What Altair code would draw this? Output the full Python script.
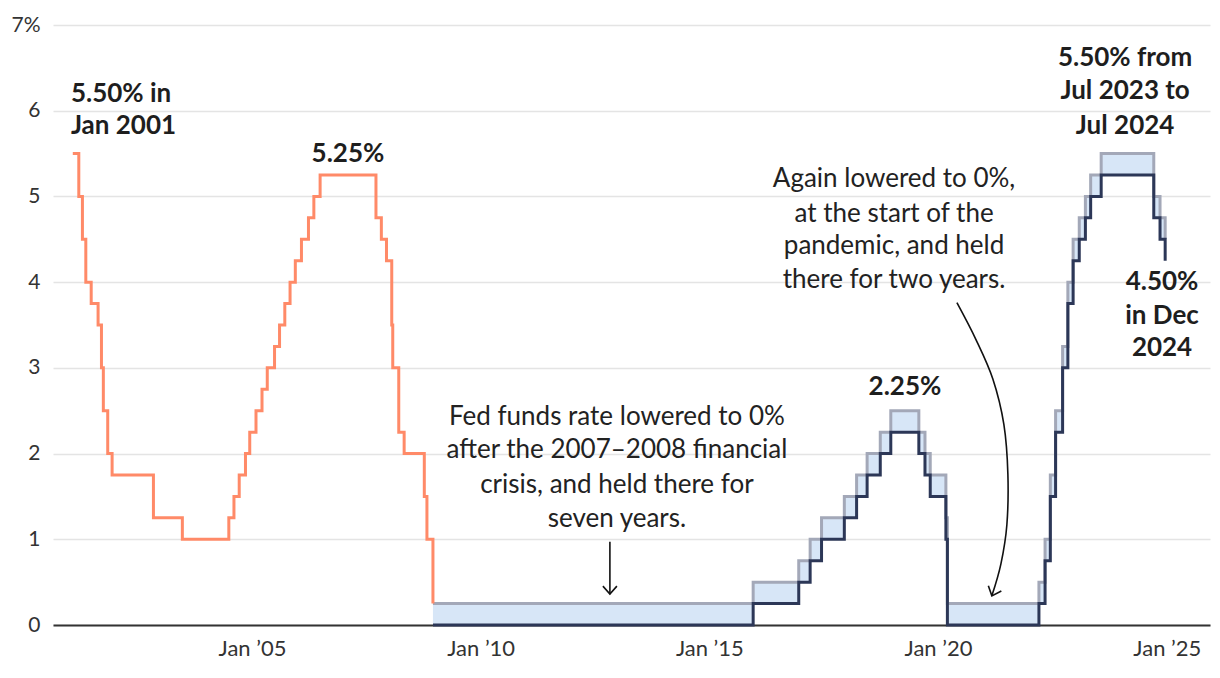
import altair as alt
import pandas as pd

# ---- Single target rate (before Dec 2008) ----
target_dates = ["2001-01-31", "2001-03-20", "2001-04-18", "2001-05-15", "2001-06-27",
                "2001-08-21", "2001-09-17", "2001-10-02", "2001-11-06", "2001-12-11",
                "2002-11-06", "2003-06-25", "2004-06-30", "2004-08-10", "2004-09-21",
                "2004-11-10", "2004-12-14", "2005-02-02", "2005-03-22", "2005-05-03",
                "2005-06-30", "2005-08-09", "2005-09-20", "2005-11-01", "2005-12-13",
                "2006-01-31", "2006-03-28", "2006-05-10", "2006-06-29", "2007-09-18",
                "2007-10-31", "2007-12-11", "2008-01-22", "2008-01-30", "2008-03-18",
                "2008-04-30", "2008-10-08", "2008-10-29", "2008-12-16"]
target_rate = [5.50, 5.00, 4.50, 4.00, 3.75,
               3.50, 3.00, 2.50, 2.00, 1.75,
               1.25, 1.00, 1.25, 1.50, 1.75,
               2.00, 2.25, 2.50, 2.75, 3.00,
               3.25, 3.50, 3.75, 4.00, 4.25,
               4.50, 4.75, 5.00, 5.25, 4.75,
               4.50, 4.25, 3.50, 3.00, 2.25,
               2.00, 1.50, 1.00, 0.25]

# ---- Target range (from Dec 2008) ----
range_dates = ["2008-12-16", "2015-12-17", "2016-12-15", "2017-03-16", "2017-06-15",
               "2017-12-14", "2018-03-22", "2018-06-14", "2018-09-27", "2018-12-20",
               "2019-08-01", "2019-09-19", "2019-10-31", "2020-03-04", "2020-03-16",
               "2022-03-17", "2022-05-05", "2022-06-16", "2022-07-28", "2022-09-22",
               "2022-11-03", "2022-12-15", "2023-02-02", "2023-03-23", "2023-05-04",
               "2023-07-27", "2024-09-19", "2024-11-08", "2024-12-19"]
range_lower = [0.00, 0.25, 0.50, 0.75, 1.00,
               1.25, 1.50, 1.75, 2.00, 2.25,
               2.00, 1.75, 1.50, 1.00, 0.00,
               0.25, 0.75, 1.50, 2.25, 3.00,
               3.75, 4.25, 4.50, 4.75, 5.00,
               5.25, 4.75, 4.50, 4.25]
range_upper = [0.25, 0.50, 0.75, 1.00, 1.25,
               1.50, 1.75, 2.00, 2.25, 2.50,
               2.25, 2.00, 1.75, 1.25, 0.25,
               0.50, 1.00, 1.75, 2.50, 3.25,
               4.00, 4.50, 4.75, 5.00, 5.25,
               5.50, 5.00, 4.75, 4.50]

# ---- Annotations (positions in data space) ----
bold_text = ["5.50% in", "Jan 2001", "5.25%", "2.25%",
             "5.50% from", "Jul 2023 to", "Jul 2024",
             "4.50%", "in Dec", "2024"]
bold_date = ["2001-01-16", "2001-01-16", "2007-02-06", "2019-04-12",
             "2024-02-03", "2024-02-03", "2024-02-03",
             "2024-11-24", "2024-11-24", "2024-11-24"]
bold_val = [6.20, 5.82, 5.49, 2.78,
            6.61, 6.23, 5.82,
            4.00, 3.61, 3.23]
bold_align = ["left", "left", "center", "center",
              "center", "center", "center",
              "center", "center", "center"]

note_text = ["Fed funds rate lowered to 0%", "after the 2007–2008 financial",
             "crisis, and held there for", "seven years.",
             "Again lowered to 0%,", "at the start of the",
             "pandemic, and held", "there for two years."]
note_date = ["2012-12-24"] * 4 + ["2019-01-15"] * 4
note_val = [2.43, 2.04, 1.63, 1.24, 5.20, 4.80, 4.42, 4.03]

arrow1_date = ["2012-10-29"]
arrow1_from = [0.97]
arrow1_to = [0.36]

curve_dates = ["2020-05-31", "2020-10-30", "2021-03-14", "2021-06-10",
               "2021-07-12", "2021-07-04", "2021-05-17", "2021-03-06"]
curve_vals = [3.76, 3.33, 2.87, 2.34, 1.76, 1.17, 0.71, 0.34]

head_dates = ["2012-10-29", "2021-03-06"]
head_vals = [0.36, 0.34]
head_angle = [0, 22]

FONT = "Lato"

target_df = pd.DataFrame({"date": target_dates, "rate": target_rate})
range_df = pd.DataFrame({"date": range_dates, "lower": range_lower, "upper": range_upper})
bold_df = pd.DataFrame({"date": bold_date, "val": bold_val, "text": bold_text, "align": bold_align})
note_df = pd.DataFrame({"date": note_date, "val": note_val, "text": note_text})
arrow1_df = pd.DataFrame({"date": arrow1_date, "y1": arrow1_from, "y2": arrow1_to})
curve_df = pd.DataFrame({"date": curve_dates, "val": curve_vals, "order": list(range(len(curve_dates)))})
head_df = pd.DataFrame({"date": head_dates, "val": head_vals, "angle": head_angle})

x_scale = alt.Scale(type="utc",
                    domain=[alt.DateTime(year=2000, month=8, date=26, utc=True),
                            alt.DateTime(year=2025, month=12, date=12, utc=True)])
y_scale = alt.Scale(domain=[0, 7], nice=False)

x_axis = alt.Axis(values=[alt.DateTime(year=y, month=1, date=1, utc=True) for y in [2005, 2010, 2015, 2020, 2025]],
                  format="%b ’%y", title=None, grid=False, ticks=False, tickSize=0,
                  domain=True, domainColor="#333333", domainWidth=2,
                  labelFont=FONT, labelFontSize=22, labelColor="#333333", labelPadding=13)
y_axis = alt.Axis(values=[0, 1, 2, 3, 4, 5, 6, 7], title=None, grid=True, format="d",
                  gridColor="#e4e4e4", gridWidth=1.5, domain=False, ticks=False, tickSize=0,
                  labelExpr="datum.value == 7 ? '7%' : datum.label",
                  labelFont=FONT, labelFontSize=21, labelColor="#333333", labelPadding=13)

X = alt.X("date:T", scale=x_scale, axis=x_axis)

area = alt.Chart(range_df).mark_area(interpolate="step-after", color="#d7e6f7").encode(
    x=X, y=alt.Y("upper:Q", scale=y_scale, axis=y_axis), y2="lower:Q")

upper = alt.Chart(range_df).mark_line(interpolate="step-after", color="#a3a8b8", strokeWidth=3).encode(
    x="date:T", y="upper:Q")
lower = alt.Chart(range_df).mark_line(interpolate="step-after", color="#2c3757", strokeWidth=3).encode(
    x="date:T", y="lower:Q")
orange = alt.Chart(target_df).mark_line(interpolate="step-after", color="#ff8a68", strokeWidth=3).encode(
    x="date:T", y="rate:Q")

bold_left = alt.Chart(bold_df[bold_df["align"] == "left"]).mark_text(
    font=FONT, fontSize=26, fontWeight="bold", color="#1e1e1e", align="left", baseline="middle").encode(
    x="date:T", y="val:Q", text="text:N")
bold_center = alt.Chart(bold_df[bold_df["align"] == "center"]).mark_text(
    font=FONT, fontSize=26, fontWeight="bold", color="#1e1e1e", align="center", baseline="middle").encode(
    x="date:T", y="val:Q", text="text:N")
notes = alt.Chart(note_df).mark_text(
    font=FONT, fontSize=26, color="#222222", align="center", baseline="middle").encode(
    x="date:T", y="val:Q", text="text:N")

arrow1 = alt.Chart(arrow1_df).mark_rule(color="#111111", strokeWidth=1.6).encode(
    x="date:T", y="y1:Q", y2="y2:Q")
curve = alt.Chart(curve_df).mark_line(color="#111111", strokeWidth=1.6, interpolate="cardinal").encode(
    x="date:T", y="val:Q", order="order:Q")
heads = alt.Chart(head_df).mark_point(
    shape="M-0.875,-1L0,0L0.875,-1", filled=False, color="#111111", strokeWidth=1.6, size=256, opacity=1).encode(
    x="date:T", y="val:Q", angle=alt.Angle("angle:Q", scale=None))

chart = alt.layer(area, upper, lower, orange, arrow1, curve, heads, bold_left, bold_center, notes).properties(
    width=1157, height=600,
    autosize=alt.AutoSizeParams(type="none"),
    padding={"left": 53, "top": 25, "right": 10, "bottom": 53},
    background="white",
).configure_view(stroke=None)

chart.save("out.html", embed_options={"renderer": "svg", "actions": False})
